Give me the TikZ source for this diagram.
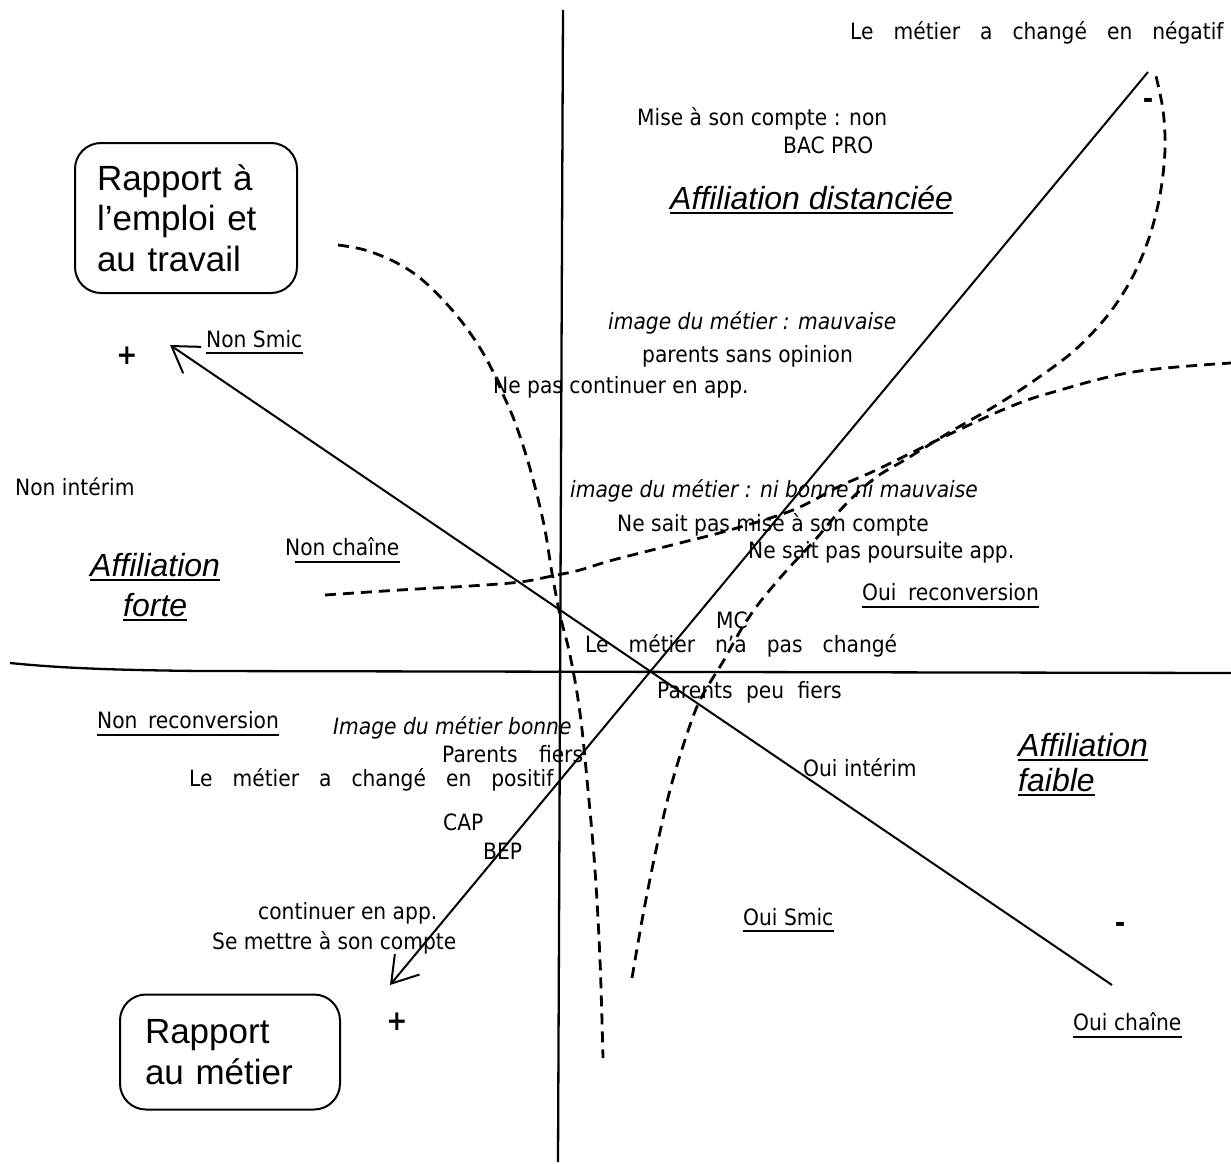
\documentclass[tikz,border=0pt]{standalone}
\usepackage{fontspec}
\setmainfont{DejaVu Sans}[FakeStretch=0.9]
\newfontfamily\arialf{Liberation Sans}
\usetikzlibrary{arrows.meta}
\newcommand\wsp{\hspace{20pt}}
\begin{document}
\begin{tikzpicture}[x=1pt,y=-1pt,
  lab/.style={inner sep=0pt,anchor=base west,font=\fontsize{22.5}{26}\selectfont},
  itl/.style={lab,font=\fontsize{22.5}{26}\selectfont\itshape},
  big/.style={inner sep=0pt,anchor=base west,font=\arialf\itshape\fontsize{32}{38}\selectfont},
  uline/.style={line width=2pt},
  bline/.style={line width=2.6pt},
  axisline/.style={line width=2.3pt},
  diag/.style={line width=2pt},
  arr/.style={diag,-{Straight Barb[length=25pt,width=32pt,line width=2pt]}},
  dashcurve/.style={line width=2.8pt,dash pattern=on 11pt off 7pt},
  boxn/.style={draw,line width=2pt,rounded corners=26pt,align=left,font=\arialf\fontsize{35}{40.5}\selectfont,minimum height=#1},
  signmark/.style={inner sep=0pt,font=\bfseries\fontsize{28}{28}\selectfont}
]
\useasboundingbox[fill=white] (0,0) rectangle (1231,1164);

% axes
\coordinate (vt) at (563,10);
\coordinate (vb) at (558,1162);
\coordinate (hl) at (10,663);
\coordinate (hm) at (200,671);
\coordinate (hr) at (1231,673);
\draw[axisline] (vt) -- (vb);
\draw[axisline] (hl) .. controls (60,668) and (110,670) .. (hm) -- (hr);

% diagonal arrows
\coordinate (d1a) at (1112,985);
\coordinate (d1b) at (170,345);
\coordinate (d2a) at (1148,72);
\coordinate (d2b) at (390,985);
\draw[arr] (d1a) -- (d1b);
\draw[arr] (d2a) -- (d2b);

% dashed curves
\draw[dashcurve] plot[smooth,tension=0.6] coordinates {(338,245) (365,250) (395,262) (420,278) (445,302) (468,330) (487,360) (502,392) (516,425) (531,472) (544,525) (552,573) (560,615) (570,655) (580,713) (588,790) (595,870) (600,960) (603,1058)};
\draw[dashcurve] plot[smooth,tension=0.6] coordinates {(325,595) (400,590) (470,586) (520,582) (552,576) (580,570) (613,560) (680,543) (730,530) (793,510) (840,486) (872,472) (905,456) (950,434) (1007,408) (1050,393) (1133,372) (1231,363)};
\draw[dashcurve] plot[smooth,tension=0.55] coordinates {(632,978) (643,915) (656,850) (670,790) (685,740) (700,700) (724,660) (742,628) (760,602) (787,570) (815,540) (845,505) (875,478) (908,458) (950,432) (995,406) (1035,380) (1075,350) (1108,315) (1132,278) (1149,238) (1160,195) (1165,150) (1163,110) (1155,72)};

% boxes
\node[boxn=150pt,minimum width=222pt,text width=178pt] (b1) at (186,218) {Rapport à\\l’emploi et\\au travail};
\node[boxn=115pt,minimum width=220pt,text width=170pt] (b2) at (230,1052) {Rapport\\au métier};

% marks
\node[signmark] (p1) at (127,356) {+};
\node[signmark] (p2) at (397,1022) {+};
\node[signmark] (m1) at (1148,103) {-};
\node[signmark] (m2) at (1120,927) {-};

% labels
\node[lab] (t1) at (850,40) {Le\wsp métier\wsp a\wsp changé\wsp en\wsp négatif};
\node[lab] (t2) at (637,125) {Mise à son compte : non};
\node[lab] (t3) at (783,153) {BAC PRO};
\node[big] (ad) at (670,209) {Affiliation distanciée};
\draw[bline] ([yshift=-4pt]ad.base west) -- ([yshift=-4pt]ad.base east);
\node[itl] (t4) at (608,329) {image du métier : mauvaise};
\node[lab] (t5) at (642,362) {parents sans opinion};
\node[lab] (t6) at (493,393) {Ne pas continuer en app.};
\node[lab] (ns) at (206,347) {Non Smic};
\draw[uline] ([yshift=-6pt]ns.base west) -- ([yshift=-6pt]ns.base east);
\node[lab] (t7) at (15,495) {Non intérim};
\node[itl] (t8) at (570,497) {image du métier : ni bonne ni mauvaise};
\node[lab] (t9) at (617,531) {Ne sait pas mise à son compte};
\node[lab] (t10) at (748,558) {Ne sait pas poursuite app.};
\node[lab] (nc) at (285,555) {Non chaîne};
\draw[uline] ([yshift=-7pt,xshift=10pt]nc.base west) -- ([yshift=-7pt]nc.base east);
\node[big] (af1) at (90,576) {Affiliation};
\draw[bline] ([yshift=-4pt]af1.base west) -- ([yshift=-4pt]af1.base east);
\node[big] (af2) at (123,616) {forte};
\draw[bline] ([yshift=-4pt]af2.base west) -- ([yshift=-4pt]af2.base east);
\node[lab] (orc) at (862,600) {Oui\hspace{5pt} reconversion};
\draw[uline] ([yshift=-7pt]orc.base west) -- ([yshift=-7pt]orc.base east);
\node[lab] (t11) at (716,628) {MC};
\node[lab] (t12) at (585,652) {Le\wsp métier\wsp n{\char"27}a\wsp pas\wsp changé};
\node[lab] (t13) at (657,698) {Parents\hspace{7pt} peu\hspace{7pt} fiers};
\node[lab] (nrc) at (97,728) {Non\hspace{4pt} reconversion};
\draw[uline] ([yshift=-7pt]nrc.base west) -- ([yshift=-7pt]nrc.base east);
\node[itl] (t14) at (333,734) {Image du métier bonne};
\node[lab] (t15) at (442,762) {Parents\hspace{15pt} fiers};
\node[lab] (t16) at (189,786) {Le\wsp métier\wsp a\wsp changé\wsp en\wsp positif};
\node[big] (af3) at (1018,756) {Affiliation};
\draw[bline] ([yshift=-4pt]af3.base west) -- ([yshift=-4pt]af3.base east);
\node[big] (af4) at (1018,791) {faible};
\draw[bline] ([yshift=-4pt]af4.base west) -- ([yshift=-4pt]af4.base east);
\node[lab] (t17) at (803,776) {Oui intérim};
\node[lab] (t18) at (443,830) {CAP};
\node[lab] (t19) at (483,859) {BEP};
\node[lab] (t20) at (258,919) {continuer en app.};
\node[lab] (t21) at (212,949) {Se mettre à son compte};
\node[lab] (os) at (743,925) {Oui Smic};
\draw[uline] ([yshift=-6pt]os.base west) -- ([yshift=-6pt]os.base east);
\node[lab] (oc) at (1073,1030) {Oui chaîne};
\draw[uline] ([yshift=-7pt]oc.base west) -- ([yshift=-7pt]oc.base east);
\end{tikzpicture}
\end{document}
